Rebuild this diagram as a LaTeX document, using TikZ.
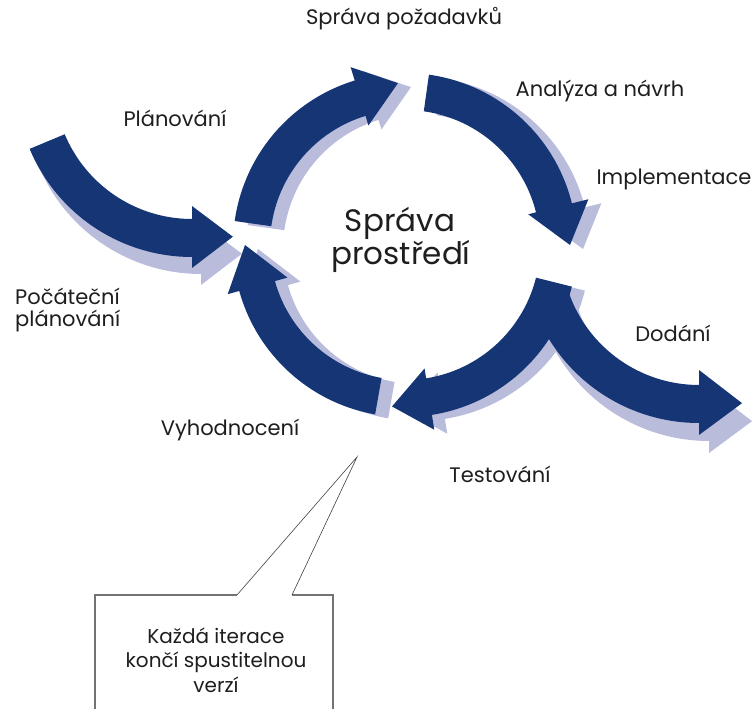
\documentclass[tikz,border=0pt]{standalone}
\usepackage{fontspec}
\setmainfont{Poppins}
\definecolor{navy}{RGB}{21,53,117}
\definecolor{haze}{RGB}{185,188,219}
\definecolor{ink}{RGB}{30,30,30}

% Bent band with a triangular head:
% #1 inner radius, #2 outer radius, #3 tail angle, #4 head base angle,
% #5 inner barb radius, #6 outer barb radius, #7 tip angle, #8 tip radius
\newcommand{\bentarrow}[8]{(#3:#2) arc[start angle=#3, end angle=#4, radius=#2]
  -- (#4:#6) -- (#7:#8) -- (#4:#5) -- (#4:#1)
  arc[start angle=#4, end angle=#3, radius=#1] -- cycle}

\begin{document}
\begin{tikzpicture}[x=1pt, y=1pt,
  band/.style={fill=navy},
  bandshade/.style={fill=haze},
  lbl/.style={font=\fontsize{21}{25}\selectfont, text=ink, inner sep=0pt},
  biglbl/.style={font=\fontsize{31}{33}\selectfont, text=ink, inner sep=0pt, align=center},
  notetext/.style={font=\fontsize{20}{24.5}\selectfont, text=ink, inner sep=0pt, align=center},
  boxline/.style={draw=black!55, line width=1.3pt},
  pointer/.style={draw=black!75, line width=0.6pt}]
\useasboundingbox (0,0) rectangle (755,709);

% centres of the bent bands
\coordinate (ring) at (405,464);
\coordinate (entry) at (192,628);
\coordinate (exit) at (699,462);

% ---- shadows ----
\begin{scope}[shift={(ring)}, xshift=13, yshift=-4]
  \fill[bandshade] \bentarrow{135}{172}{172}{107}{125}{186}{92.5}{162};
  \fill[bandshade] \bentarrow{135}{172}{82}{14}{127}{189}{0}{165};
  \fill[bandshade] \bentarrow{135}{172}{-14}{-81}{125}{187}{-94.6}{162};
  \fill[bandshade] \bentarrow{135}{172}{-100}{-164.5}{122}{184}{-180}{160};
\end{scope}
\begin{scope}[shift={(entry)}, xshift=9, yshift=-17]
  \fill[bandshade] \bentarrow{138}{176}{202.7}{270}{125}{187}{284.7}{161};
\end{scope}
\begin{scope}[shift={(exit)}, xshift=10, yshift=-18]
  \fill[bandshade] \bentarrow{138}{176}{199}{270}{123}{188}{285.4}{162};
\end{scope}

% ---- bands ----
\begin{scope}[shift={(entry)}]
  \fill[band] \bentarrow{138}{176}{202.7}{270}{125}{187}{284.7}{161};
\end{scope}
\begin{scope}[shift={(exit)}]
  \fill[band] \bentarrow{138}{176}{199}{270}{123}{188}{285.4}{162};
\end{scope}
\begin{scope}[shift={(ring)}]
  \fill[band] \bentarrow{135}{172}{172}{107}{125}{186}{92.5}{162};
  \fill[band] \bentarrow{135}{172}{82}{14}{127}{189}{0}{165};
  \fill[band] \bentarrow{135}{172}{-14}{-81}{125}{187}{-94.6}{162};
  \fill[band] \bentarrow{135}{172}{-100}{-164.5}{122}{184}{-180}{160};
\end{scope}

% ---- labels ----
\node[lbl, anchor=base] (req) at (404,684) {Správa požadavků};
\node[lbl, anchor=base] (anal) at (600,612) {Analýza a návrh};
\node[lbl, anchor=base] (impl) at (674,524) {Implementace};
\node[lbl, anchor=base] (plan) at (175,582) {Plánování};
\node[lbl, anchor=base west] (init1) at (15,404) {Počáteční};
\node[lbl, anchor=base west] (init2) at (15,382) {plánování};
\node[lbl, anchor=base] (eval) at (230,273) {Vyhodnocení};
\node[lbl, anchor=base] (test) at (500,226) {Testování};
\node[lbl, anchor=base] (deliv) at (673,367) {Dodání};
\node[biglbl, anchor=base] (env1) at (400,477) {Správa};
\node[biglbl, anchor=base] (env2) at (401,444) {prostředí};

% ---- callout ----
\coordinate (boxbl) at (95,-5);
\coordinate (boxtl) at (95,114);
\coordinate (ptrl) at (237,114);
\coordinate (ptrtip) at (357,252);
\coordinate (ptrr) at (292,114);
\coordinate (boxtr) at (333,114);
\coordinate (boxbr) at (333,-5);
\draw[boxline] (boxbl) -- (boxtl) -- (ptrl);
\draw[boxline] (ptrr) -- (boxtr) -- (boxbr);
\draw[pointer] (ptrl) -- (ptrtip) -- (ptrr);
\node[notetext] (note) at (216,49) {Každá iterace\\končí spustitelnou\\verzí};
\end{tikzpicture}
\end{document}
